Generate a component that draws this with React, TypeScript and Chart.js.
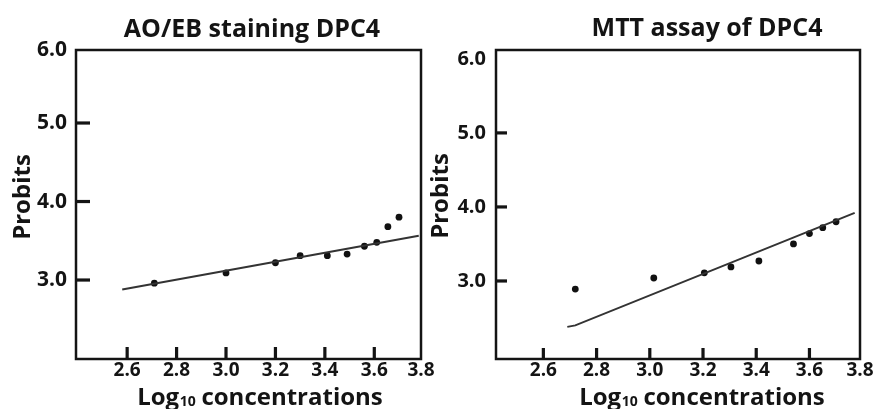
import React, { useEffect, useRef } from "react";
import { Chart, registerables } from "chart.js";

Chart.register(...registerables);

// ---- Text ----
const leftTitle = "AO/EB staining DPC4";
const rightTitle = "MTT assay of DPC4";
const yAxisTitle = "Probits";
const xAxisTitleMain = "Log";
const xAxisTitleSub = "10";
const xAxisTitleRest = " concentrations";

// ---- Tick labels ----
const xTickValues = [2.6, 2.8, 3.0, 3.2, 3.4, 3.6, 3.8];
const yTickValues = [3.0, 4.0, 5.0, 6.0];

// ---- AO/EB staining data ----
const aoebLogConc = [2.71, 3.0, 3.2, 3.3, 3.41, 3.49, 3.56, 3.61, 3.655, 3.7];
const aoebProbit = [2.96, 3.09, 3.22, 3.31, 3.31, 3.33, 3.43, 3.48, 3.68, 3.8];
const aoebFitLogConc = [2.58, 3.78];
const aoebFitProbit = [2.88, 3.565];

// ---- MTT assay data ----
const mttLogConc = [2.72, 3.015, 3.205, 3.305, 3.41, 3.54, 3.6, 3.65, 3.7];
const mttProbit = [2.89, 3.04, 3.11, 3.19, 3.27, 3.5, 3.64, 3.72, 3.8];
const mttFitLogConc = [2.69, 2.72, 3.77];
const mttFitProbit = [2.38, 2.4, 3.92];

const INK = "#141414";
const FONT = '"Open Sans", "DejaVu Sans", sans-serif';

type Panel = {
  canvasLeft: number;
  canvasWidth: number;
  yAxisWidth: number;
  padRight: number;
  xMin: number;
  xMax: number;
  yMin: number;
  yMax: number;
  title: string;
  titleX: number;
  titleY: number;
  xTitleX: number;
  xTitleY: number;
  yTitleX: number;
  yTitleY: number;
  yTickFont: number;
  xTickFont: number;
  yTickPad: number;
  yTickLen: number;
  xTickLen: number;
  px: number[];
  py: number[];
  fx: number[];
  fy: number[];
};

const panels: Panel[] = [
  {
    canvasLeft: 0,
    canvasWidth: 440,
    yAxisWidth: 76,
    padRight: 19,
    xMin: 2.393,
    xMax: 3.789,
    yMin: 1.994,
    yMax: 5.93,
    title: leftTitle,
    titleX: 252,
    titleY: 37,
    xTitleX: 260,
    xTitleY: 405,
    yTitleX: 23,
    yTitleY: 197,
    yTickFont: 21,
    xTickFont: 19,
    yTickPad: 9,
    yTickLen: 14,
    xTickLen: 12,
    px: aoebLogConc,
    py: aoebProbit,
    fx: aoebFitLogConc,
    fy: aoebFitProbit,
  },
  {
    canvasLeft: 420,
    canvasWidth: 455,
    yAxisWidth: 76,
    padRight: 15,
    xMin: 2.422,
    xMax: 3.79,
    yMin: 1.946,
    yMax: 6.12,
    title: rightTitle,
    titleX: 287,
    titleY: 36,
    xTitleX: 282,
    xTitleY: 405,
    yTitleX: 21,
    yTitleY: 196,
    yTickFont: 20,
    xTickFont: 19,
    yTickPad: 10,
    yTickLen: 11,
    xTickLen: 11,
    px: mttLogConc,
    py: mttProbit,
    fx: mttFitLogConc,
    fy: mttFitProbit,
  },
];

const framePlugin = {
  id: "frameAndText",
  afterDraw(chart: any, _args: any, opts: any) {
    const p: Panel = opts.panel;
    if (!p) return;
    const ctx: CanvasRenderingContext2D = chart.ctx;
    const a = chart.chartArea;
    const xs = chart.scales.x;
    const ys = chart.scales.y;
    ctx.save();
    ctx.strokeStyle = INK;
    ctx.lineWidth = 2.5;
    ctx.strokeRect(a.left, a.top, a.right - a.left, a.bottom - a.top);

    // inward tick marks (not on the outermost labelled values)
    ctx.fillStyle = INK;
    yTickValues.slice(0, -1).forEach((v) => {
      const yy = ys.getPixelForValue(v);
      ctx.fillRect(a.left, yy - 1.6, p.yTickLen, 3.2);
    });
    xTickValues.slice(0, -1).forEach((v) => {
      const xx = xs.getPixelForValue(v);
      ctx.fillRect(xx - 1.6, a.bottom - p.xTickLen, 3.2, p.xTickLen);
    });

    // chart title
    ctx.textAlign = "center";
    ctx.textBaseline = "alphabetic";
    ctx.font = `bold 25px ${FONT}`;
    ctx.fillText(p.title, p.titleX, p.titleY);

    // y axis title
    ctx.save();
    ctx.translate(p.yTitleX, p.yTitleY);
    ctx.rotate(-Math.PI / 2);
    ctx.font = `bold 24px ${FONT}`;
    ctx.textBaseline = "middle";
    ctx.fillText(yAxisTitle, 0, 0);
    ctx.restore();

    // x axis title with subscript
    const mainFont = `bold 24px ${FONT}`;
    const subFont = `bold 14px ${FONT}`;
    ctx.font = mainFont;
    const w1 = ctx.measureText(xAxisTitleMain).width;
    const w3 = ctx.measureText(xAxisTitleRest).width;
    ctx.font = subFont;
    const w2 = ctx.measureText(xAxisTitleSub).width;
    const total = w1 + w2 + w3;
    let x0 = p.xTitleX - total / 2;
    ctx.textAlign = "left";
    ctx.font = mainFont;
    ctx.fillText(xAxisTitleMain, x0, p.xTitleY);
    x0 += w1;
    ctx.font = subFont;
    ctx.fillText(xAxisTitleSub, x0 + 0.5, p.xTitleY + 1);
    x0 += w2;
    ctx.font = mainFont;
    ctx.fillText(xAxisTitleRest, x0, p.xTitleY);
    ctx.restore();
  },
};

function PanelChart({ p }: { p: Panel }) {
  const ref = useRef<HTMLCanvasElement | null>(null);
  useEffect(() => {
    if (!ref.current) return;
    const points = p.px.map((x, i) => ({ x, y: p.py[i] }));
    const fit = p.fx.map((x, i) => ({ x, y: p.fy[i] }));
    const chart = new Chart(ref.current, {
      type: "scatter",
      data: {
        datasets: [
          {
            data: fit,
            showLine: true,
            borderColor: "#333333",
            borderWidth: 2,
            pointRadius: 0,
            fill: false,
          },
          {
            data: points,
            showLine: false,
            pointRadius: 3.4,
            pointBackgroundColor: "#111111",
            pointBorderWidth: 0,
          },
        ],
      },
      options: {
        responsive: false,
        animation: false,
        events: [],
        layout: { padding: { left: 0, right: p.padRight, top: 50, bottom: 0 } },
        plugins: {
          legend: { display: false },
          tooltip: { enabled: false },
          title: { display: false },
          frameAndText: { panel: p },
        } as any,
        scales: {
          x: {
            type: "linear",
            min: p.xMin,
            max: p.xMax,
            grid: { display: false, drawTicks: false },
            border: { display: false },
            afterBuildTicks: (s: any) => {
              s.ticks = xTickValues.map((v) => ({ value: Math.min(v, s.max) }));
            },
            afterFit: (s: any) => {
              s.height = 50;
            },
            ticks: {
              autoSkip: false,
              maxRotation: 0,
              padding: 0,
              color: INK,
              font: { family: FONT, size: p.xTickFont, weight: "bold" },
              callback: (_v: any, i: number) => xTickValues[i].toFixed(1),
            },
          },
          y: {
            type: "linear",
            min: p.yMin,
            max: p.yMax,
            grid: { display: false, drawTicks: false },
            border: { display: false },
            afterBuildTicks: (s: any) => {
              s.ticks = yTickValues.map((v) => ({ value: Math.min(v, s.max) }));
            },
            afterFit: (s: any) => {
              s.width = p.yAxisWidth;
            },
            ticks: {
              autoSkip: false,
              padding: p.yTickPad,
              color: INK,
              font: { family: FONT, size: p.yTickFont, weight: "bold" },
              callback: (_v: any, i: number) => yTickValues[i].toFixed(1),
            },
          },
        },
      },
      plugins: [framePlugin],
    });
    return () => chart.destroy();
  }, [p]);
  return (
    <canvas
      ref={ref}
      width={p.canvasWidth}
      height={409}
      style={{ position: "absolute", left: p.canvasLeft, top: 0, width: p.canvasWidth, height: 409 }}
    />
  );
}

export default function App() {
  return (
    <div style={{ position: "absolute", left: 0, top: 0, width: 875, height: 409, background: "#ffffff", overflow: "hidden" }}>
      {panels.map((p, i) => (
        <PanelChart key={i} p={p} />
      ))}
    </div>
  );
}
